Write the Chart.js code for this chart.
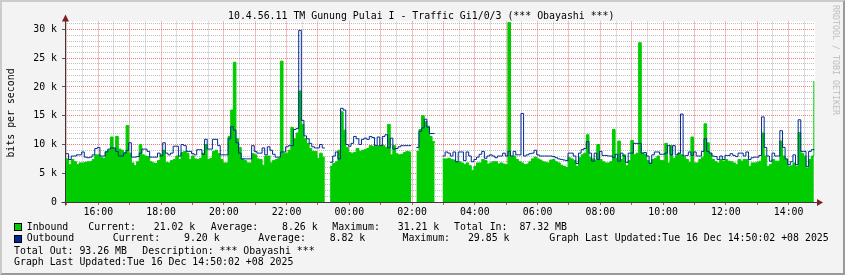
<!DOCTYPE html>
<html>
<head>
<meta charset="utf-8">
<script src="https://cdn.jsdelivr.net/npm/chart.js@4.4.0/dist/chart.umd.min.js"></script>
<style>
  html, body { margin: 0; padding: 0; background: #f3f3f3; }
  #wrap { position: relative; width: 845px; height: 275px; background: #f3f3f3; overflow: hidden;
          font-family: "DejaVu Sans Mono", monospace; font-size: 9.9px; color: #000; }
  #wrap canvas { position: absolute; left: 0; top: 0; }
  .frame { position: absolute; left: 0; top: 0; width: 845px; height: 275px; box-sizing: border-box;
           border-top: 2px solid #cbcbcb; border-left: 2px solid #cbcbcb;
           border-right: 2px solid #9a9a9a; border-bottom: 2px solid #9a9a9a; pointer-events: none; }
  .t { position: absolute; white-space: pre; line-height: 12px; }
  .box { position: absolute; width: 6px; height: 6px; border: 1px solid #000; }
  #ylab { left: 11.3px; top: 113px; transform: translate(-50%, -50%) rotate(-90deg); }
  #wm { left: 836px; top: 60px; font-size: 8.3px; color: #bdbdbd; transform: translate(-50%, -50%) rotate(90deg); }
</style>
</head>
<body>
<div id="wrap">
  <canvas id="traffic" width="845" height="275"></canvas>
  <div class="t" style="left:228px; top:9.7px;">10.4.56.11 TM Gunung Pulai I - Traffic Gi1/0/3 (*** Obayashi ***)</div>
  <div class="t" id="ylab">bits per second</div>
  <div class="t" id="wm">RRDTOOL / TOBI OETIKER</div>

  <div class="box" style="left:13.5px; top:223px; background:#00cc00;"></div>
  <div class="t" style="left:26.7px; top:220.5px;">Inbound</div>
  <div class="t" style="left:88.3px; top:220.5px;">Current:   21.02 k</div>
  <div class="t" style="left:210.7px; top:220.5px;">Average:    8.26 k</div>
  <div class="t" style="left:332.3px; top:220.5px;">Maximum:   31.21 k</div>
  <div class="t" style="left:454px; top:220.5px;">Total In:  87.32 MB</div>

  <div class="box" style="left:13.5px; top:235px; background:#002a97;"></div>
  <div class="t" style="left:26.7px; top:232.2px;">Outbound</div>
  <div class="t" style="left:112.7px; top:232.2px;">Current:    9.20 k</div>
  <div class="t" style="left:258.3px; top:232.2px;">Average:    8.82 k</div>
  <div class="t" style="left:402.5px; top:232.2px;">Maximum:   29.85 k</div>
  <div class="t" style="left:549.3px; top:232.2px;">Graph Last Updated:Tue 16 Dec 14:50:02 +08 2025</div>

  <div class="t" style="left:14px; top:244.7px;">Total Out: 93.26 MB</div>
  <div class="t" style="left:142.3px; top:244.7px;">Description: *** Obayashi ***</div>
  <div class="t" style="left:14px; top:256px;">Graph Last Updated:Tue 16 Dec 14:50:02 +08 2025</div>
  <div class="frame"></div>
</div>
<script>
// 5-minute samples, kbit/s (one row = one hour, first row 15:00)
const START_HOUR = 14.97;   // first sample, hours since yesterday 00:00
const STEP_HOURS = 1 / 12;  // 5 minutes
const X_MIN = 14.939;
const X_MAX = 38.84;
const Y_MAX = 31.4;

const inbound = [
  7.5, 6.5, 7.4, 7.0, 6.5, 6.8, 6.8, 6.9, 7.0, 7.0, 7.4, 8.2,
  8.2, 7.8, 7.6, 8.8, 9.0, 11.3, 9.3, 11.4, 9.2, 9.0, 8.6, 13.3,
  8.5, 6.8, 6.3, 7.0, 10.0, 8.2, 8.0, 7.9, 7.0, 6.8, 6.7, 7.2,
  8.2, 9.0, 6.9, 6.8, 7.2, 7.4, 8.0, 7.4, 8.6, 8.8, 8.5, 7.4,
  8.0, 7.5, 7.4, 7.6, 8.5, 10.0, 7.4, 7.6, 8.8, 9.0, 8.4, 7.4,
  6.8, 6.8, 11.4, 16.0, 24.3, 11.0, 9.5, 7.5, 7.2, 6.8, 6.8, 8.4,
  8.2, 7.5, 7.4, 6.4, 8.0, 8.0, 6.8, 7.2, 7.4, 7.6, 24.5, 8.5,
  8.5, 9.0, 13.0, 11.0, 12.0, 19.3, 13.5, 11.0, 10.2, 9.3, 8.8, 8.8,
  7.6, 8.5, 7.8, 7.8, null, 6.2, 6.7, 7.0, 9.0, 15.7, 12.5, 9.5,
  8.6, 8.5, 8.6, 9.3, 8.8, 9.0, 9.1, 9.3, 9.8, 9.7, 9.6, 9.8,
  9.7, 9.8, 9.5, 13.5, 8.2, 9.8, 8.4, 8.2, 8.3, 8.6, 8.8, 8.7,
  8.7, null, 8.8, 12.6, 15.0, 14.0, 13.2, 11.4, 10.5, 10.3, null, null,
  7.5, 7.5, 7.6, 7.4, 7.3, 7.0, 7.0, 6.8, 6.5, 6.8, 6.3, 5.5,
  6.2, 6.8, 6.8, 7.4, 7.2, 6.6, 6.8, 7.0, 7.0, 6.6, 6.8, 6.6,
  6.5, 31.21, 7.9, 8.0, 7.4, 7.0, 6.8, 6.5, 6.6, 7.0, 7.5, 7.8,
  7.5, 7.3, 7.0, 6.9, 6.8, 7.3, 7.4, 7.0, 6.8, 6.4, 6.2, 6.0,
  7.7, 7.5, 7.2, 6.2, 7.7, 8.2, 8.5, 11.7, 7.8, 7.5, 7.3, 10.0,
  7.4, 7.0, 6.8, 6.8, 7.0, 12.6, 7.6, 10.6, 7.4, 8.2, 6.3, 7.2,
  10.7, 8.2, 8.5, 27.7, 8.5, 8.3, 7.2, 6.8, 7.4, 7.6, 8.0, 7.2,
  7.2, 10.2, 6.8, 9.8, 7.6, 8.0, 8.5, 8.2, 7.8, 7.4, 6.9, 11.3,
  6.8, 6.8, 7.4, 7.8, 13.6, 10.3, 8.5, 7.4, 7.0, 6.8, 7.4, 7.1,
  7.4, 7.1, 7.0, 6.8, 6.5, 7.4, 7.1, 7.4, 7.4, 6.2, 6.8, 6.8,
  6.9, 7.1, 12.0, 8.0, 6.2, 6.5, 7.4, 7.1, 7.1, 10.6, 8.0, 7.4,
  6.2, 6.3, 6.8, 6.2, 12.1, 8.5, 8.0, 5.9, 7.4, 8.0, 21.02
];

const outbound = [
  8.4, 7.4, 8.0, 8.0, 8.2, 8.2, 8.7, 7.8, 7.7, 7.8, 8.2, 9.3,
  9.5, 8.0, 8.0, 8.7, 9.2, 9.4, 9.4, 8.8, 8.0, 8.0, 8.5, 9.0,
  10.3, 7.8, 7.8, 7.9, 8.5, 9.2, 9.2, 8.8, 7.8, 7.8, 7.8, 8.5,
  8.0, 10.3, 8.5, 8.2, 8.5, 9.7, 9.7, 8.0, 10.0, 9.8, 8.8, 8.8,
  8.4, 8.2, 9.1, 9.1, 8.3, 10.9, 9.2, 9.2, 10.9, 10.9, 9.8, 8.2,
  8.2, 8.2, 11.0, 13.1, 12.5, 10.3, 8.5, 7.5, 7.5, 7.5, 7.5, 9.8,
  8.8, 8.5, 8.5, 9.4, 8.2, 9.6, 9.0, 8.3, 7.8, 7.8, 8.7, 8.7,
  9.6, 9.8, 9.8, 12.6, 12.8, 29.85, 14.2, 11.5, 11.0, 10.2, 9.6, 9.4,
  9.4, 10.0, 9.4, 9.4, null, 6.9, 8.0, 8.7, 7.5, 16.3, 16.0, 10.0,
  9.7, 10.2, 11.4, 11.0, 10.0, 10.9, 11.1, 10.9, 11.4, 11.2, 9.8, 11.3,
  9.8, 11.4, 11.7, 9.4, 11.1, 9.2, 9.3, 9.6, 9.8, 9.8, 9.8, 9.8,
  9.8, null, 9.5, 12.3, 12.9, 14.4, 13.0, 11.9, 11.9, 11.9, null, null,
  8.0, 8.7, 8.5, 8.0, 8.7, 7.0, 8.7, 8.7, 7.2, 8.7, 8.0, 7.0,
  7.4, 7.8, 8.3, 8.8, 7.6, 8.0, 8.2, 8.0, 7.7, 8.0, 8.0, 8.5,
  8.0, 8.8, 8.0, 8.8, 8.2, 8.2, 15.4, 8.0, 8.2, 8.4, 8.5, 9.0,
  8.2, 8.0, 8.0, 8.0, 8.0, 8.0, 7.9, 7.7, 7.5, 7.4, 7.3, 7.2,
  8.5, 8.5, 8.0, 6.7, 8.5, 9.1, 9.3, 10.5, 8.5, 7.1, 8.5, 7.4,
  8.8, 8.1, 8.1, 8.0, 8.0, 7.7, 8.3, 7.1, 8.5, 8.0, 6.9, 8.5,
  8.5, 10.2, 10.2, 10.2, 8.5, 8.6, 8.0, 6.7, 8.2, 8.7, 8.7, 8.3,
  8.3, 8.5, 9.8, 8.2, 9.8, 8.2, 8.5, 15.3, 8.0, 8.1, 8.7, 8.1,
  8.7, 8.0, 8.0, 8.8, 11.0, 8.8, 8.5, 8.0, 7.9, 7.4, 8.0, 7.4,
  8.1, 8.1, 8.4, 8.1, 7.9, 8.5, 8.5, 8.0, 8.7, 7.4, 7.7, 7.8,
  7.8, 8.1, 14.8, 9.5, 8.0, 7.1, 8.5, 8.0, 8.0, 12.4, 9.5, 7.5,
  6.5, 7.0, 8.2, 6.5, 14.3, 8.8, 8.8, 6.2, 8.8, 9.1, 9.2
];

const xTickHours = [16, 18, 20, 22, 24, 26, 28, 30, 32, 34, 36, 38];
const xTickLabels = ['16:00', '18:00', '20:00', '22:00', '00:00', '02:00', '04:00', '06:00', '08:00', '10:00', '12:00', '14:00'];
const yTickValues = [0, 5, 10, 15, 20, 25, 30];
const yTickLabels = ['0', '5 k', '10 k', '15 k', '20 k', '25 k', '30 k'];

const MGRID = 'rgba(230,70,70,0.7)';
const GRID = 'rgba(130,130,130,0.5)';
const FONT = { family: '"DejaVu Sans Mono", monospace', size: 9.9 };

const toPoints = arr => arr.map((v, i) => ({ x: START_HOUR + i * STEP_HOURS, y: v }));

// white canvas, axes and arrows like rrdtool
const rrdFrame = {
    id: 'rrdFrame',
    beforeDraw(chart) {
        const { ctx, chartArea: a } = chart;
        ctx.save();
        ctx.fillStyle = '#ffffff';
        ctx.fillRect(a.left, a.top, a.right - a.left, a.bottom - a.top);
        ctx.restore();
    },
    afterDatasetsDraw(chart) {
        const { ctx, chartArea: a } = chart;
        const x0 = Math.round(a.left) + 0.5, y0 = Math.round(a.bottom) + 0.5;
        ctx.save();
        ctx.strokeStyle = '#3a3a3a';
        ctx.lineWidth = 1;
        ctx.beginPath();
        ctx.moveTo(x0, a.top - 1); ctx.lineTo(x0, y0 + 3);
        ctx.moveTo(x0 - 4, y0); ctx.lineTo(a.right + 3, y0);
        ctx.stroke();
        ctx.fillStyle = '#7f1f1f';
        ctx.beginPath();
        ctx.moveTo(x0, a.top - 7); ctx.lineTo(x0 - 3.5, a.top); ctx.lineTo(x0 + 3.5, a.top);
        ctx.closePath(); ctx.fill();
        ctx.beginPath();
        ctx.moveTo(a.right + 8, y0); ctx.lineTo(a.right + 2, y0 - 3.5); ctx.lineTo(a.right + 2, y0 + 3.5);
        ctx.closePath(); ctx.fill();
        ctx.restore();
    }
};

new Chart(document.getElementById('traffic'), {
    type: 'line',
    data: {
        datasets: [{
            label: 'Outbound',
            data: toPoints(outbound),
            borderColor: '#002a97',
            borderWidth: 1,
            stepped: true,
            fill: false,
            pointRadius: 0,
            order: 0
        }, {
            label: 'Inbound',
            data: toPoints(inbound),
            borderColor: '#00cc00',
            backgroundColor: '#00cc00',
            borderWidth: 1,
            stepped: true,
            fill: 'origin',
            pointRadius: 0,
            order: 1
        }]
    },
    options: {
        responsive: false,
        animation: false,
        events: [],
        layout: { padding: { top: 21.45, right: 30, bottom: 53, left: 0 } },
        plugins: { legend: { display: false }, tooltip: { enabled: false } },
        scales: {
            x: {
                type: 'linear',
                min: X_MIN,
                max: X_MAX,
                afterFit: s => { s.height = 20; },
                border: { display: false, dash: [1, 1] },
                grid: {
                    color: c => (c.tick && Number.isInteger(c.tick.value)) ? MGRID : GRID,
                    tickColor: c => (c.tick && Number.isInteger(c.tick.value)) ? 'rgba(200,40,40,0.8)' : 'rgba(0,0,0,0)',
                    tickLength: 3
                },
                ticks: {
                    stepSize: 0.5,
                    maxTicksLimit: 1000,
                    includeBounds: false,
                    autoSkip: false,
                    maxRotation: 0,
                    padding: 1,
                    color: '#000',
                    font: FONT,
                    callback: v => { const k = xTickHours.indexOf(v); return k >= 0 ? xTickLabels[k] : ''; }
                }
            },
            y: {
                type: 'linear',
                min: 0,
                max: Y_MAX,
                afterFit: s => { s.width = 65; },
                border: { display: false, dash: [1, 1] },
                grid: {
                    color: c => (c.tick && c.tick.value % 5 === 0) ? MGRID : GRID,
                    tickColor: c => (c.tick && c.tick.value % 5 === 0) ? '#555' : 'rgba(0,0,0,0)',
                    tickLength: 3
                },
                ticks: {
                    stepSize: 1,
                    maxTicksLimit: 1000,
                    includeBounds: false,
                    autoSkip: false,
                    padding: 5,
                    color: '#000',
                    font: FONT,
                    callback: v => { const k = yTickValues.indexOf(v); return k >= 0 ? yTickLabels[k] : ''; }
                }
            }
        }
    },
    plugins: [rrdFrame]
});
</script>
</body>
</html>
